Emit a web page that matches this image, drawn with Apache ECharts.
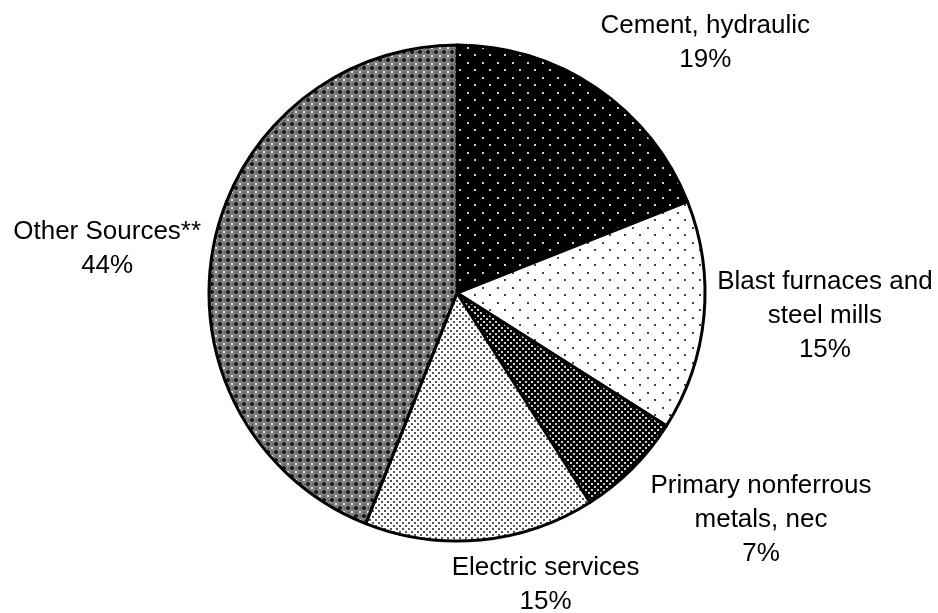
<!DOCTYPE html>
<html>
<head>
<meta charset="utf-8">
<script src="https://cdn.jsdelivr.net/npm/echarts@6/dist/echarts.min.js"></script>
<style>
html, body { margin: 0; padding: 0; background: #fff; }
#main { width: 938px; height: 613px; }
</style>
</head>
<body>
<div id="main"></div>
<script>
// slices, clockwise from 12 o'clock
var sourceNames = ['Cement, hydraulic', 'Blast furnaces and\nsteel mills', 'Primary nonferrous\nmetals, nec', 'Electric services', 'Other Sources**'];
var sourceShares = [19, 15, 7, 15, 44];

// fill pattern tiles
function dotTile(w, h, bg, fg, dots, sz) {
	var c = document.createElement('canvas');
	c.width = w; c.height = h;
	var ctx = c.getContext('2d');
	ctx.fillStyle = bg;
	ctx.fillRect(0, 0, w, h);
	ctx.fillStyle = fg;
	for (var i = 0; i < dots.length; i++) {
		ctx.fillRect(dots[i][0], dots[i][1], sz, sz);
	}
	return c;
}

function checkTile() {
	var c = document.createElement('canvas');
	c.width = 8; c.height = 8;
	var ctx = c.getContext('2d');
	ctx.fillStyle = '#7c7c7c';
	ctx.fillRect(0, 0, 8, 8);
	ctx.fillStyle = '#1a1a1a';
	ctx.fillRect(2, 3, 4, 2);
	ctx.fillRect(3, 2, 2, 4);
	ctx.fillStyle = '#3a3a3a';
	ctx.fillRect(4, 0, 1, 1);
	ctx.fillRect(0, 4, 1, 1);
	ctx.fillStyle = '#e0e0e0';
	ctx.fillRect(-1, -1, 2, 2);
	ctx.fillRect(7, -1, 2, 2);
	ctx.fillRect(-1, 7, 2, 2);
	ctx.fillRect(7, 7, 2, 2);
	return c;
}

var fills = [
	dotTile(15, 15, '#000', '#d0d0d0', [[2, 2], [9, 9]], 2),
	dotTile(15, 15, '#fff', '#444', [[2, 2], [9, 9]], 2),
	dotTile(6, 6, '#000', '#cfcfcf', [[0, 0], [3, 3]], 2),
	dotTile(6, 6, '#fff', '#555', [[0, 0], [3, 3]], 2),
	checkTile()
];

// label line lengths used only to place the text (lines hidden)
var labelLen = [55, -4, 73, 45, -13];
var labelLen2 = [-42, 5, -43, -59, -1];

var data = [];
for (var i = 0; i < sourceNames.length; i++) {
	data.push({
		name: sourceNames[i],
		value: sourceShares[i],
		itemStyle: { color: { image: fills[i], repeat: 'repeat' } },
		labelLine: { show: false, length: labelLen[i], length2: labelLen2[i] }
	});
}

var option = {
	animation: false,
	backgroundColor: '#fff',
	series: [{
		type: 'pie',
		silent: true,
		top: 0,
		left: 0,
		right: 0,
		bottom: -60,
		center: [457, 293],
		radius: 248,
		startAngle: 90,
		clockwise: true,
		avoidLabelOverlap: false,
		itemStyle: { borderColor: '#000', borderWidth: 3 },
		label: {
			show: true,
			position: 'outside',
			width: 230,
			formatter: function (p) {
				return '{t|' + p.name + '\n' + p.percent + '%}';
			},
			rich: {
				t: {
					fontFamily: 'Liberation Sans',
					fontSize: 26,
					lineHeight: 34,
					color: '#000',
					align: 'center'
				}
			}
		},
		labelLine: { show: false },
		data: data
	}]
};

var myChart = echarts.init(document.getElementById('main'));
myChart.setOption(option);
</script>
</body>
</html>
